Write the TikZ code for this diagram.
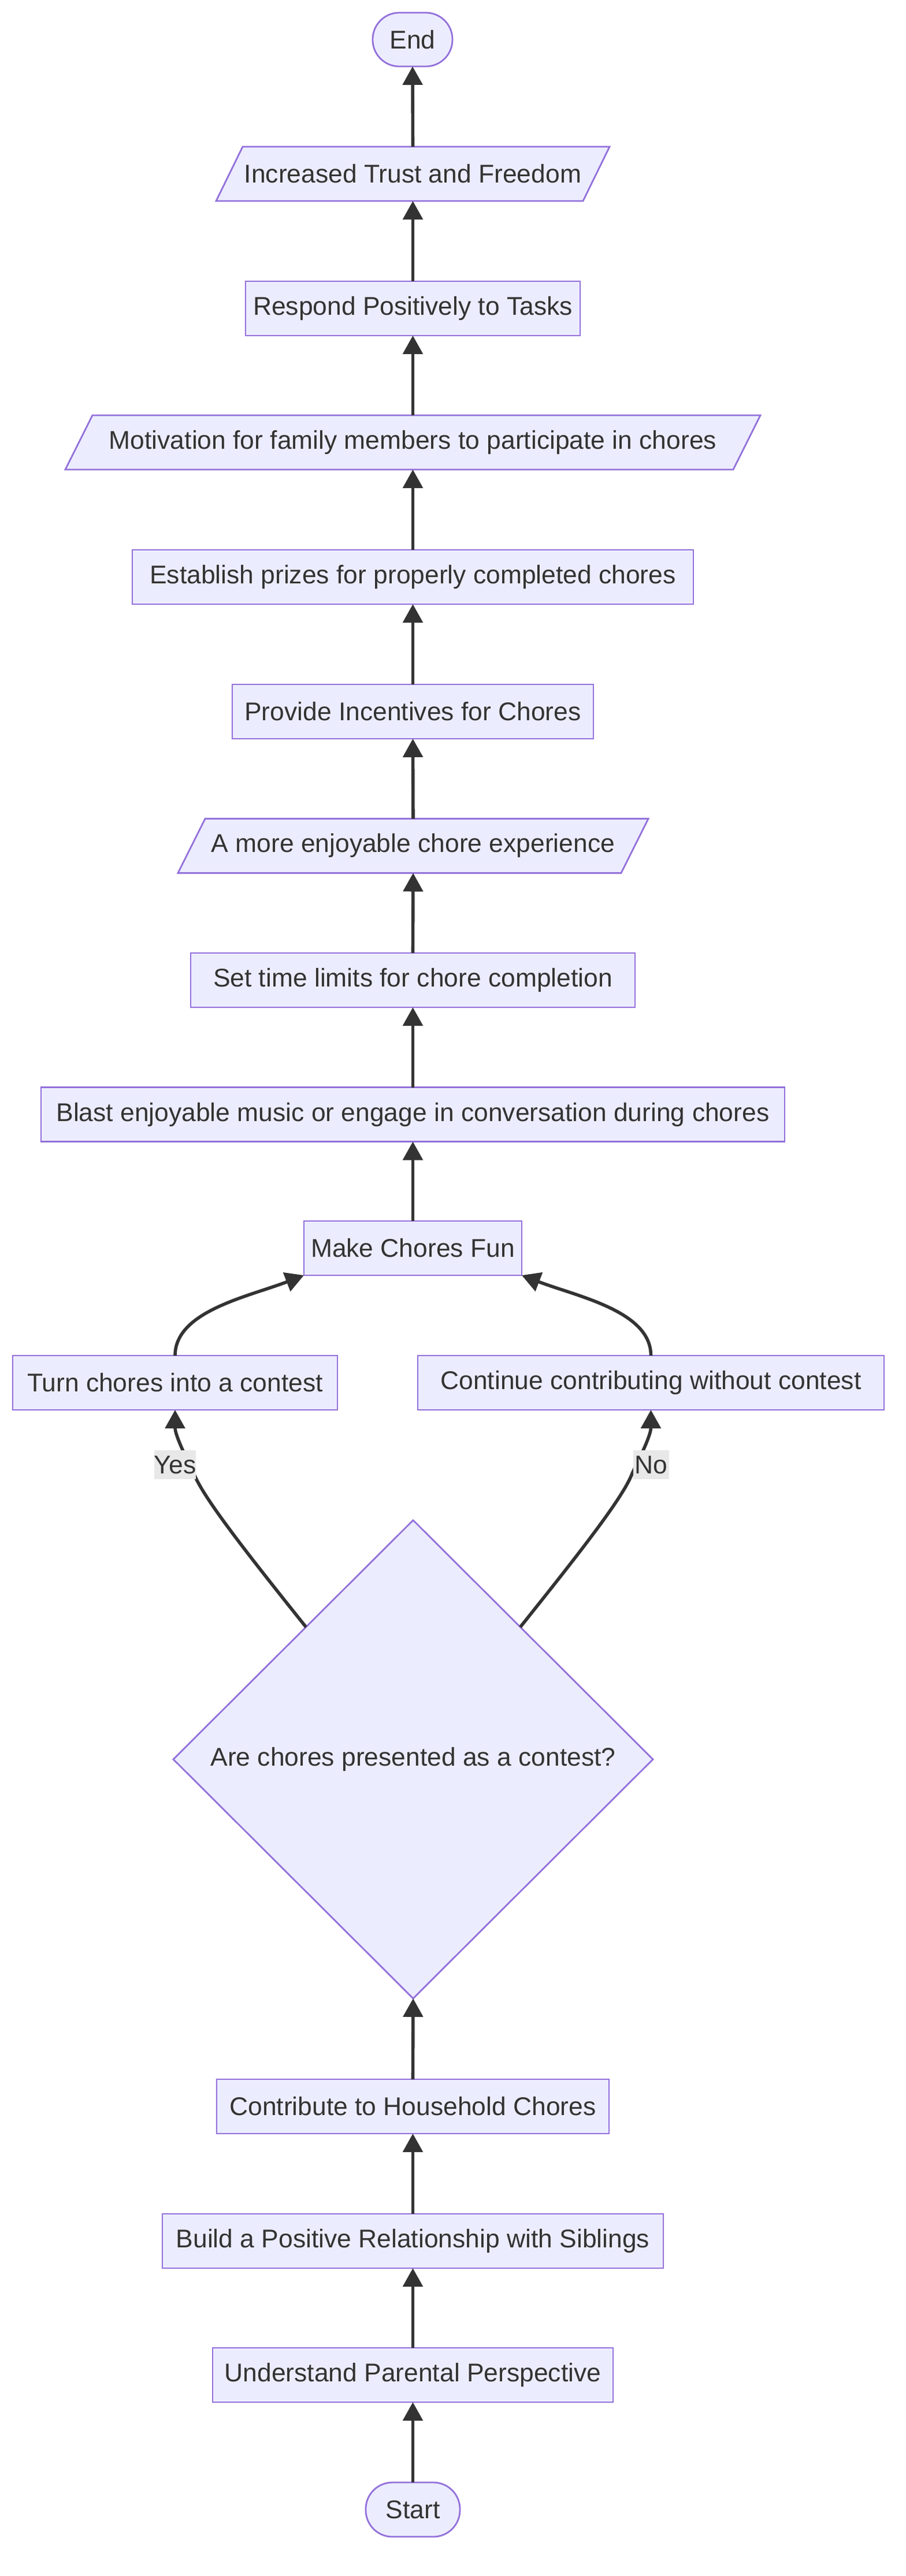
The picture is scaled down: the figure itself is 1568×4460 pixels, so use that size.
\documentclass[tikz,border=0pt]{standalone}
\usepackage{fontspec}
\setmainfont{Liberation Sans}
\usetikzlibrary{shapes.geometric,arrows.meta,calc}
\definecolor{nodefill}{HTML}{ECECFF}
\definecolor{nodeline}{HTML}{9370DB}
\definecolor{ink}{HTML}{333333}
\definecolor{lblbg}{HTML}{E8E8E8}
\pgfdeclarelayer{bg}
\pgfdeclarelayer{shapes}
\pgfsetlayers{bg,shapes,main}
\newcommand\parashape[2]{%
  \begin{pgfonlayer}{shapes}
  \path[paraline] ([xshift=#2]#1.north west) -- ([xshift=#2]#1.north east) -- ([xshift=-#2]#1.south east) -- ([xshift=-#2]#1.south west) -- cycle;
  \end{pgfonlayer}}
\begin{document}
\begin{tikzpicture}[x=0.5pt,y=-0.5pt,
  font=\fontsize{22.2pt}{26pt}\selectfont,
  base/.style={inner sep=0pt, outer sep=0pt, minimum height=47pt, text=ink},
  box/.style={base, rectangle, draw=nodeline, fill=nodefill, line width=1.4pt},
  term/.style={box, rounded corners=23pt},
  para/.style={base},
  decision/.style={diamond, draw=nodeline, fill=nodefill, line width=1.4pt, inner sep=0pt, outer sep=0pt, minimum width=415pt, minimum height=414pt, aspect=1, text=ink},
  flow/.style={draw=ink, line width=2.8pt, -{Triangle[length=16pt,width=17pt]}},
  lbl/.style={fill=lblbg, inner sep=0pt, minimum width=31pt, minimum height=25pt, text=ink},
  paraline/.style={draw=nodeline, fill=nodefill, line width=1.4pt, line join=miter}
]
\begin{pgfonlayer}{bg}
\fill[white] (0,0) rectangle (1568,4460);
\end{pgfonlayer}
\useasboundingbox (0,0) rectangle (1568,4460);

\node[term, minimum width=69pt, minimum height=46.5pt] (end) at (714,68.5) {End};
\node[para, minimum width=317.5pt] (trust) at (714.5,301) {Increased Trust and Freedom};
\node[box, minimum width=289.5pt] (respond) at (714.5,534) {Respond Positively to Tasks};
\node[para, minimum width=578pt] (motiv) at (714.5,766) {Motivation for family members to participate in chores};
\node[box, minimum width=485.5pt] (prizes) at (714.5,999) {Establish prizes for properly completed chores};
\node[box, minimum width=312.5pt] (incent) at (714.5,1232) {Provide Incentives for Chores};
\node[para, minimum width=383.5pt] (enjoy) at (715,1464.5) {A more enjoyable chore experience};
\node[box, minimum width=384.5pt] (limits) at (714.5,1697) {Set time limits for chore completion};
\node[box, minimum width=643.5pt] (music) at (714.5,1929.5) {Blast enjoyable music or engage in conversation during chores};
\node[box, minimum width=188.5pt] (fun) at (714.5,2161) {Make Chores Fun};
\node[box, minimum width=281pt] (turn) at (303,2394) {Turn chores into a contest};
\node[box, minimum width=403.5pt] (cont) at (1126.5,2394) {Continue contributing without contest};
\node[decision] (dec) at (715,3046) {Are chores presented as a contest?};
\node[box, minimum width=339.5pt] (contrib) at (714.5,3647) {Contribute to Household Chores};
\node[box, minimum width=433.5pt] (build) at (714.5,3880) {Build a Positive Relationship with Siblings};
\node[box, minimum width=346.5pt] (under) at (714.5,4112) {Understand Parental Perspective};
\node[term, minimum width=81.5pt] (start) at (714.5,4345) {Start};

\parashape{trust}{11.5pt}
\parashape{motiv}{11.75pt}
\parashape{enjoy}{11.75pt}

\draw[flow] (start.north) -- (under.south);
\draw[flow] (under.north) -- (build.south);
\draw[flow] (build.north) -- (contrib.south);
\draw[flow] (contrib.north) -- (dec.north |- dec.south);
\draw[flow] (dec.129) .. controls (420,2680) and (350,2590) .. (335,2550) .. controls (310,2500) and (303,2480) .. (turn.south);
\draw[flow] (dec.51) .. controls (1010,2680) and (1080,2590) .. (1094.5,2550) .. controls (1119.5,2500) and (1126.5,2480) .. (cont.south);
\draw[flow] (turn.north) .. controls (303,2270) and (430,2245) .. (fun.south west);
\draw[flow] (cont.north) .. controls (1126.5,2270) and (1000,2245) .. (fun.south east);
\draw[flow] (fun.north) -- (music.south);
\draw[flow] (music.north) -- (limits.south);
\draw[flow] (limits.north) -- (enjoy.south);
\draw[flow] (enjoy.north) -- (incent.south);
\draw[flow] (incent.north) -- (prizes.south);
\draw[flow] (prizes.north) -- (motiv.south);
\draw[flow] (motiv.north) -- (respond.south);
\draw[flow] (respond.north) -- (trust.south);
\draw[flow] (trust.north) -- (end.south);

\node[lbl] (yes) at (303,2536) {Yes};
\node[lbl] (no) at (1126.5,2536) {No};
\end{tikzpicture}
\end{document}
